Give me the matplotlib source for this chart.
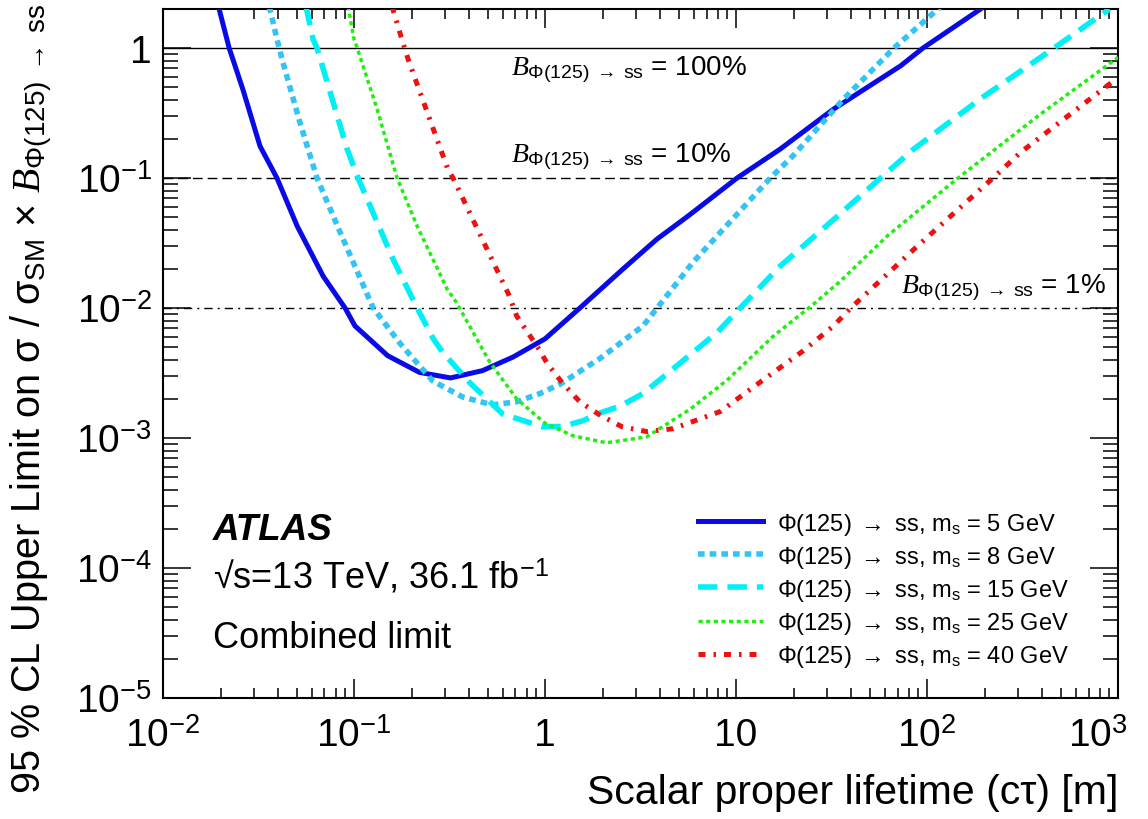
import matplotlib
matplotlib.use('Agg')
import matplotlib.pyplot as plt
import matplotlib.transforms as mtransforms
from matplotlib.ticker import LogLocator, NullFormatter

plt.rcParams['font.family'] = ['Liberation Sans', 'DejaVu Sans']
plt.rcParams['mathtext.fontset'] = 'custom'
plt.rcParams['mathtext.rm'] = 'Liberation Sans'
plt.rcParams['mathtext.it'] = 'Liberation Serif:italic'
plt.rcParams['mathtext.bf'] = 'Liberation Sans:bold'
plt.rcParams['mathtext.sf'] = 'Liberation Sans'

# limits, c*tau in m
ctau_5 = [0.0195, 0.0222, 0.0262, 0.0322, 0.0395, 0.0504, 0.0689, 0.0898, 0.101, 0.15,
          0.22, 0.32, 0.47, 0.68, 1.0, 1.52, 2.56, 3.86, 5.6, 10.1, 17.0, 32.4, 72.6, 95.0, 200.0]
lim_5 = [2.1, 1.0, 0.48, 0.176, 0.1, 0.0427, 0.0176, 0.01, 0.0073, 0.0043,
         0.0032, 0.0029, 0.0033, 0.0042, 0.0058, 0.01, 0.02, 0.034, 0.051, 0.1, 0.167, 0.34, 0.73, 1.0, 2.1]

ctau_8 = [0.036, 0.0395, 0.042, 0.052, 0.064, 0.0845, 0.126, 0.175, 0.258, 0.37,
          0.53, 0.71, 0.94, 1.2, 1.94, 3.26, 3.86, 5.96, 10.5, 15.1, 20.0, 36.5, 67.0, 114.0, 125.0]
lim_8 = [2.1, 1.17, 0.82, 0.27, 0.1, 0.0384, 0.01, 0.0053, 0.00275, 0.00207,
         0.0018, 0.0019, 0.0022, 0.0026, 0.0041, 0.0073, 0.01, 0.0226, 0.056, 0.1, 0.15, 0.405, 1.0, 2.0, 2.3]

ctau_15 = [0.056, 0.061, 0.064, 0.092, 0.105, 0.16, 0.214, 0.26, 0.29, 0.40,
           0.60, 0.97, 1.24, 1.58, 1.87, 2.47, 3.26, 4.9, 7.96, 10.5, 17.0, 32.4, 57.0, 85.0,
           189.0, 461.0, 900.0]
lim_15 = [2.1, 1.17, 1.0, 0.167, 0.1, 0.0238, 0.01, 0.0058, 0.0046, 0.0027,
          0.00153, 0.00122, 0.00123, 0.00136, 0.00153, 0.00176, 0.0022, 0.0036, 0.0065, 0.01, 0.021, 0.048, 0.1, 0.167,
          0.405, 1.0, 2.0]

ctau_25 = [0.093, 0.1, 0.104, 0.132, 0.168, 0.214, 0.307, 0.344, 0.51, 0.71,
           1.0, 1.4, 2.1, 3.4, 5.76, 9.0, 15.7, 25.0, 35.0, 62.0, 145.0, 380.0, 1000.0]
lim_25 = [2.1, 1.17, 1.0, 0.34, 0.1, 0.0427, 0.014, 0.011, 0.0039, 0.002,
          0.0013, 0.00104, 0.00092, 0.00102, 0.00167, 0.0028, 0.0061, 0.0105, 0.016, 0.036, 0.1, 0.3, 0.85]

ctau_40 = [0.158, 0.178, 0.192, 0.26, 0.31, 0.33, 0.65, 0.71, 0.94, 1.02,
           1.22, 1.52, 1.94, 2.53, 3.42, 4.68, 8.26, 13.4, 22.5, 32.4, 39.8, 89.0, 221.0, 309.0, 942.0]
lim_40 = [2.1, 1.17, 0.82, 0.238, 0.117, 0.1, 0.0124, 0.0087, 0.0047, 0.0038,
          0.0027, 0.0019, 0.0015, 0.00122, 0.00112, 0.00118, 0.0016, 0.0027, 0.0047, 0.0073, 0.01, 0.03, 0.1, 0.158, 0.557]

mass_labels = ['5', '8', '15', '25', '40']
br_levels = [1.0, 0.1, 0.01]
br_labels = ['100%', '10%', '1%']

x_ticks = [1e-2, 1e-1, 1, 10, 1e2, 1e3]
x_ticklabels = [r'$10^{-2}$', r'$10^{-1}$', '1', '10', r'$10^{2}$', r'$10^{3}$']
y_ticks = [1e-5, 1e-4, 1e-3, 1e-2, 1e-1, 1]
y_ticklabels = [r'$10^{-5}$', r'$10^{-4}$', r'$10^{-3}$', r'$10^{-2}$', r'$10^{-1}$', '1']

curves = [
    (ctau_5, lim_5, '#0a0ae6', 3.6, '-'),
    (ctau_8, lim_8, '#33c3f5', 4.0, (0, (1.2, 0.9))),
    (ctau_15, lim_15, '#00f0f8', 4.0, (0, (3.5, 1.8))),
    (ctau_25, lim_25, '#22ee11', 2.5, (0, (1.2, 1.0))),
    (ctau_40, lim_40, '#f01010', 3.6, (0, (1.4, 1.6, 0.5, 1.6))),
]

fig = plt.figure(figsize=(11.48, 8.2), dpi=100)
ax = fig.add_axes([0.142, 0.1476, 0.832, 0.8402])
ax.set_xscale('log')
ax.set_yscale('log')
ax.set_xlim(1e-2, 1e3)
ax.set_ylim(1e-5, 2.0)

# BR reference lines
ref_styles = ['-', (0, (7, 3.6)), (0, (6, 3.6, 1.5, 3.6))]
for lvl, st in zip(br_levels, ref_styles):
    ax.axhline(lvl, color='black', lw=1.0, ls=st, zorder=1)

for (x, y, c, lw, ls), m in zip(curves, mass_labels):
    ax.plot(x, y, color=c, lw=lw, ls=ls, zorder=3,
            label=r'$\Phi$(125) $\rightarrow$ ss, m$_{\mathrm{s}}$ = %s GeV' % m)

br_pos = [(0.66, 0.63), (0.66, 0.135), (73.0, 0.0133)]
for (px, py), lab in zip(br_pos, br_labels):
    ax.text(px, py, r'$B_{\Phi(125)\ \rightarrow\ \mathrm{ss}}$ = ' + lab,
            fontsize=20, va='baseline', ha='left', zorder=4)

ax.text(0.052, 0.245, 'ATLAS', transform=ax.transAxes, fontsize=26.5,
        fontweight='bold', fontstyle='italic', va='center')
ax.text(0.052, 0.177, '√s=13 TeV, 36.1 fb$^{\\mathrm{-1}}$', transform=ax.transAxes,
        fontsize=26, va='center')
ax.text(0.052, 0.088, 'Combined limit', transform=ax.transAxes, fontsize=26, va='center')

leg = ax.legend(loc='upper left', bbox_to_anchor=(0.560, 0.272), frameon=False,
                fontsize=17, handlelength=2.75, handletextpad=0.6, labelspacing=0.3,
                borderpad=0, borderaxespad=0)

ax.set_xticks(x_ticks)
ax.set_xticklabels(x_ticklabels)
ax.set_yticks(y_ticks)
ax.set_yticklabels(y_ticklabels)
ax.xaxis.set_minor_locator(LogLocator(base=10, subs=range(2, 10), numticks=20))
ax.yaxis.set_minor_locator(LogLocator(base=10, subs=range(2, 10), numticks=20))
ax.xaxis.set_minor_formatter(NullFormatter())
ax.yaxis.set_minor_formatter(NullFormatter())

ax.tick_params(which='both', direction='in', top=True, right=True, width=1.1)
ax.tick_params(axis='x', which='major', length=14, labelsize=28, pad=14)
ax.tick_params(axis='x', which='minor', length=7)
ax.tick_params(axis='y', which='major', length=20, labelsize=28, pad=8)
ax.tick_params(axis='y', which='minor', length=11)
for sp in ax.spines.values():
    sp.set_linewidth(1.5)

# keep the last x label inside the canvas, as in the original
last = ax.get_xticklabels()[-1]
last.set_transform(last.get_transform() + mtransforms.ScaledTranslation(-0.2, 0, fig.dpi_scale_trans))

ax.set_xlabel('Scalar proper lifetime (cτ) [m]', fontsize=29.5, loc='right', labelpad=14)
ax.set_ylabel(r'95 % CL Upper Limit on σ / σ$_{\mathrm{SM}}$ × $B_{\Phi(125)\ \rightarrow\ \mathrm{ss}}$',
              fontsize=28.5, loc='top')
ax.yaxis.set_label_coords(-0.113, 1.01)

fig.savefig('out.png', dpi=100)
